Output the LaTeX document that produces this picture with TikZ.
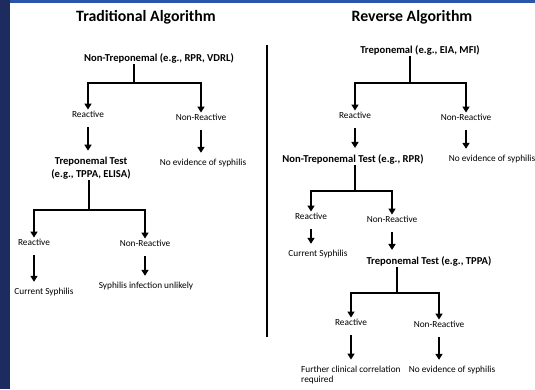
\documentclass[tikz,border=0pt]{standalone}
\usepackage{fontspec}
\setmainfont{Carlito}
\usetikzlibrary{arrows.meta}

\definecolor{navy}{HTML}{1E2B5F}
\definecolor{barblue}{HTML}{2956A6}

\tikzset{
  title/.style={font=\bfseries\fontsize{15.8}{18}\selectfont},
  test/.style={font=\bfseries\fontsize{10.6}{13}\selectfont, align=center, inner sep=1pt},
  result/.style={font=\fontsize{9.3}{10.5}\selectfont, inner sep=1pt},
  line/.style={line width=1.6pt},
  arr/.style={line width=1.6pt, -{Triangle[length=6pt,width=7pt]}},
  down arrow/.style={arr, shorten <=9pt, shorten >=5pt},
}

\begin{document}
\begin{tikzpicture}[x=1pt,y=-1pt]
  % Frame
  \useasboundingbox (0,0) rectangle (535,389);
  \fill[white] (0,0) rectangle (535,389);
  \fill[navy] (0,0) rectangle (10,389);
  \fill[barblue] (10,0) rectangle (535,3);

  % Divider
  \draw[line width=1.8pt] (267,45) -- (267,337);

  % Traditional algorithm
  \node[title] (tradtitle) at (146,17) {Traditional Algorithm};
  \node[test] (ntl) at (159,58) {Non-Treponemal (e.g., RPR, VDRL)};
  \coordinate (fl1) at (134,83);
  \node[result] (rl1) at (88,114) {Reactive};
  \node[result] (nrl1) at (201,117) {Non-Reactive};
  \node[test] (ttl) at (91,168) {Treponemal Test\\(e.g., TPPA, ELISA)};
  \node[result] (nel) at (203,163) {No evidence of syphilis};
  \coordinate (fl2) at (89,210);
  \node[result] (rl2) at (34,242) {Reactive};
  \node[result] (nrl2) at (145,243) {Non-Reactive};
  \node[result] (csl) at (44,292) {Current Syphilis};
  \node[result] (sul) at (146,286) {Syphilis infection unlikely};

  \draw[line] (ntl.south -| fl1) -- (fl1);
  \draw[arr] (fl1) -| (rl1.north);
  \draw[arr] (fl1) -| (nrl1.north);
  \draw[down arrow] (rl1.south) -- (rl1.south |- ttl.north);
  \draw[down arrow] (nrl1.south) -- (nrl1.south |- nel.north);
  \draw[line] (ttl.south -| fl2) -- (fl2);
  \draw[arr] (fl2) -| (rl2.north);
  \draw[arr] (fl2) -| (nrl2.north);
  \draw[down arrow] (rl2.south) -- (rl2.south |- csl.north);
  \draw[down arrow] (nrl2.south) -- (nrl2.south |- sul.north);

  % Reverse algorithm
  \node[title] (revtitle) at (412,17) {Reverse Algorithm};
  \node[test] (tpr) at (420,50) {Treponemal (e.g., EIA, MFI)};
  \coordinate (fr1) at (410,83);
  \node[result] (rr1) at (355,115) {Reactive};
  \node[result] (nrr1) at (466,117) {Non-Reactive};
  \node[test] (ntr) at (353,159) {Non-Treponemal Test (e.g., RPR)};
  \node[result] (ner1) at (492,159) {No evidence of syphilis};
  \coordinate (fr2) at (355,191);
  \node[result] (rr2) at (311,216) {Reactive};
  \node[result] (nrr2) at (392,219) {Non-Reactive};
  \node[result] (csr) at (318,254) {Current Syphilis};
  \node[test] (ttr) at (429,261) {Treponemal Test (e.g., TPPA)};
  \coordinate (fr3) at (397,293);
  \node[result] (rr3) at (351,322) {Reactive};
  \node[result] (nrr3) at (439,324) {Non-Reactive};
  \node[result, align=left, anchor=west] (fcr) at (300,375) {Further clinical correlation\\required};
  \node[result] (ner2) at (452,370) {No evidence of syphilis};

  \draw[line] (tpr.south -| fr1) -- (fr1);
  \draw[arr] (fr1) -| (rr1.north);
  \draw[arr] (fr1) -| (nrr1.north);
  \draw[down arrow] (rr1.south) -- (rr1.south |- ntr.north);
  \draw[down arrow] (nrr1.south) -- (nrr1.south |- ner1.north);
  \draw[line] (ntr.south -| fr2) -- (fr2);
  \draw[arr] (fr2) -| (rr2.north);
  \draw[arr] (fr2) -| (nrr2.north);
  \draw[down arrow] (rr2.south) -- (rr2.south |- csr.north);
  \draw[down arrow] (nrr2.south) -- (nrr2.south |- ttr.north);
  \draw[line] (ttr.south -| fr3) -- (fr3);
  \draw[arr] (fr3) -| (rr3.north);
  \draw[arr] (fr3) -| (nrr3.north);
  \draw[down arrow] (rr3.south) -- (rr3.south |- fcr.north);
  \draw[down arrow] (nrr3.south) -- (nrr3.south |- ner2.north);
\end{tikzpicture}
\end{document}
